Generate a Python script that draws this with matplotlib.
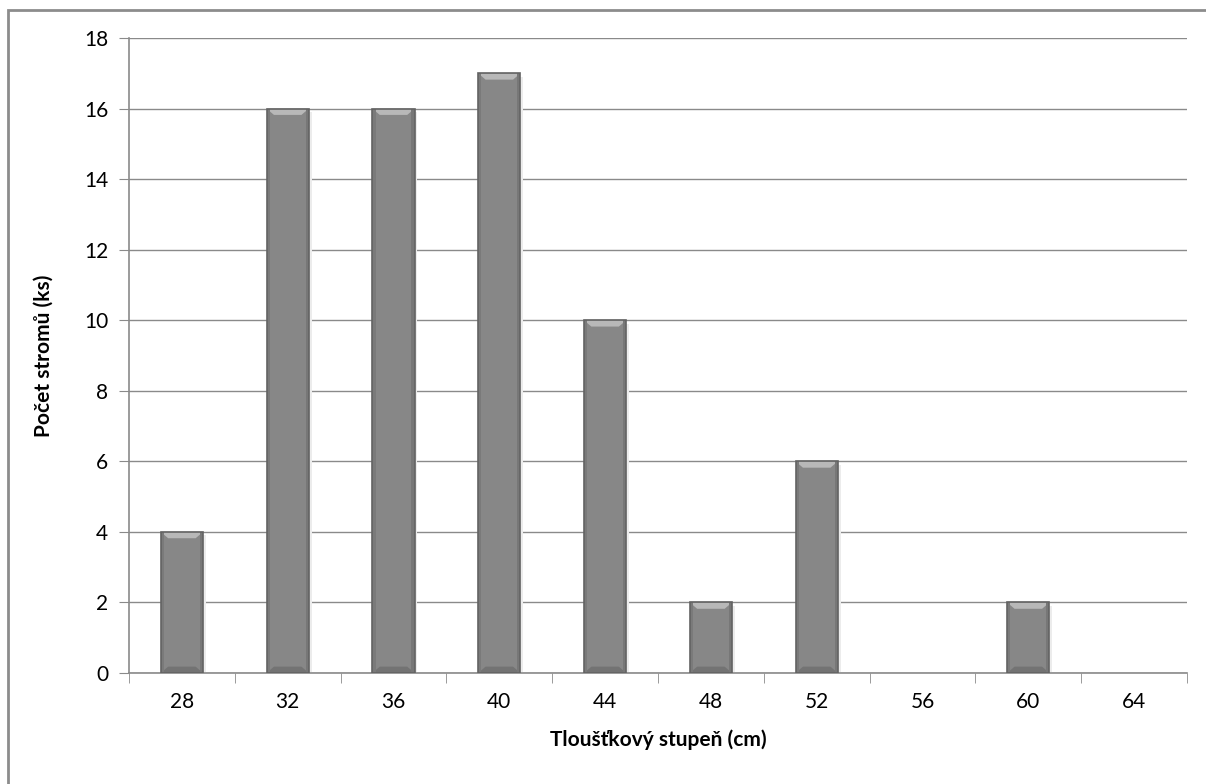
import numpy as np
import matplotlib.pyplot as plt
from matplotlib.patches import Rectangle, Polygon

plt.rcParams['font.family'] = ['Lato', 'DejaVu Sans']

stupne = [28, 32, 36, 40, 44, 48, 52, 56, 60, 64]
pocty = [4, 16, 16, 17, 10, 2, 6, 0, 2, 0]
yticks = list(range(0, 19, 2))

W, H = 1206, 784
fig = plt.figure(figsize=(W / 100, H / 100), dpi=100)
ax = fig.add_axes([129 / W, (H - 673) / H, (1187 - 129) / W, (673 - 38) / H])

# outer chart border (only top/left visible in the crop)
fig.patches.append(Rectangle((8 / W, -0.1), 1.2, 1.1 - 10 / H, transform=fig.transFigure,
                             fill=False, edgecolor='#8c8c8c', linewidth=2, zorder=0))

x = np.arange(len(stupne))
bw = 0.4
face = '#878787'
ax.bar(x, pocty, width=bw, color=face, linewidth=0, zorder=3)

# bevel effect: lighter top, darker bottom and sides
for xi, v in zip(x, pocty):
    if v <= 0:
        continue
    bev = 0.18
    l, r = xi - bw / 2, xi + bw / 2
    ax.add_patch(Polygon([[l, v], [r, v], [r - 0.07, v - bev], [l + 0.07, v - bev]],
                         closed=True, facecolor='#b8b8b8', edgecolor='none', zorder=4))
    ax.add_patch(Polygon([[l, 0], [r, 0], [r - 0.07, bev], [l + 0.07, bev]],
                         closed=True, facecolor='#737373', edgecolor='none', zorder=4))
    ax.add_patch(Rectangle((l, 0), 0.03, v, facecolor='#7a7a7a', edgecolor='none', zorder=4))
    ax.add_patch(Rectangle((r - 0.03, 0), 0.03, v, facecolor='#777777', edgecolor='none', zorder=4))
    ax.add_patch(Rectangle((l, 0), bw, v, fill=False, edgecolor='#636363', linewidth=1.2, zorder=5))
    # soft shadow
    ax.add_patch(Rectangle((r, 0), 0.025, v - 0.1, facecolor='#ececec', edgecolor='none', zorder=2))

ax.set_xlim(-0.5, len(stupne) - 0.5)
ax.set_ylim(0, 18)
ax.set_yticks(yticks)
ax.set_xticks(x)
ax.set_xticklabels([str(s) for s in stupne])
ax.set_xticks(np.arange(-0.5, len(stupne)), minor=True)

ax.yaxis.grid(True, color='#8a8a8a', linewidth=1, zorder=0)
ax.set_axisbelow(True)
for s in ['top', 'right']:
    ax.spines[s].set_visible(False)
for s in ['left', 'bottom']:
    ax.spines[s].set_color('#8a8a8a')
    ax.spines[s].set_linewidth(1.2)

ax.tick_params(axis='y', direction='out', length=7, color='#8a8a8a', labelsize=15, pad=8)
ax.tick_params(axis='x', which='major', length=0, labelsize=15, pad=14)
ax.tick_params(axis='x', which='minor', direction='out', length=7, color='#8a8a8a')

ax.set_xlabel('Tloušťkový stupeň (cm)', fontsize=15, fontweight='bold', labelpad=12)
ax.set_ylabel('Počet stromů (ks)', fontsize=15, fontweight='bold', labelpad=22)

fig.savefig('out.png', dpi=100)
